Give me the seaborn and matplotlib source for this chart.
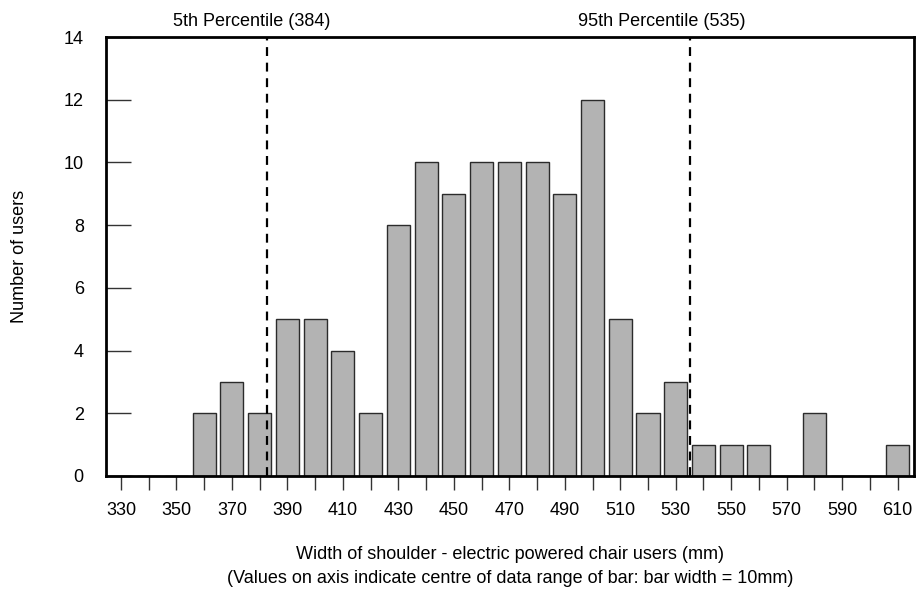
import numpy as np
import pandas as pd
import seaborn as sns
import matplotlib.pyplot as plt

# bar centres (mm) and counts
widths = [330, 340, 350, 360, 370, 380, 390, 400, 410, 420, 430, 440, 450, 460, 470,
          480, 490, 500, 510, 520, 530, 540, 550, 560, 570, 580, 590, 600, 610]
users = [0, 0, 0, 2, 3, 2, 5, 5, 4, 2, 8, 10, 9, 10, 10,
         10, 9, 12, 5, 2, 3, 1, 1, 1, 0, 2, 0, 0, 1]

percentile_pos = [382.5, 535]
percentile_labels = ["5th Percentile (384)", "95th Percentile (535)"]
percentile_text_x = [377, 525]

df = pd.DataFrame({"width": widths, "users": users})

sns.set_theme(style="white")
plt.rcParams["font.family"] = ["Liberation Sans", "DejaVu Sans"]
plt.rcParams["text.color"] = "black"
plt.rcParams["axes.labelcolor"] = "black"
plt.rcParams["xtick.labelcolor"] = "black"
plt.rcParams["ytick.labelcolor"] = "black"

fig = plt.figure(figsize=(9.22, 5.89), dpi=100)
ax = fig.add_axes([0.115, 0.192, 0.876, 0.745])

sns.barplot(data=df, x="width", y="users", native_scale=True, width=0.83,
            color="#b3b3b3", edgecolor="#2b2b2b", linewidth=1, saturation=1, ax=ax)

for pos, lab, tx in zip(percentile_pos, percentile_labels, percentile_text_x):
    ax.axvline(pos, color="black", linestyle=(0, (4, 3)), linewidth=1.6, zorder=3)
    ax.text(tx, 14.22, lab, ha="center", va="bottom", fontsize=13)

ax.set_xlim(324.6, 615.8)
ax.set_ylim(0, 14)
ax.set_xticks(widths)
ax.set_xticklabels([str(w) if i % 2 == 0 else "" for i, w in enumerate(widths)])
ax.set_yticks(range(0, 15, 2))
ax.tick_params(axis="x", direction="out", length=10, width=1, labelsize=13, pad=9,
               bottom=True, color="#333333", labelcolor="black")
ax.tick_params(axis="y", direction="in", length=18, width=1, labelsize=13, pad=16,
               left=True, color="#333333", labelcolor="black")

for s in ax.spines.values():
    s.set_visible(True)
    s.set_color("black")
    s.set_linewidth(2)

ax.set_xlabel("Width of shoulder - electric powered chair users (mm)\n"
              "(Values on axis indicate centre of data range of bar: bar width = 10mm)",
              fontsize=13, labelpad=19, linespacing=1.6, color="black")
ax.set_ylabel("Number of users", fontsize=13, labelpad=26, color="black")

fig.savefig("out.png", dpi=100)
